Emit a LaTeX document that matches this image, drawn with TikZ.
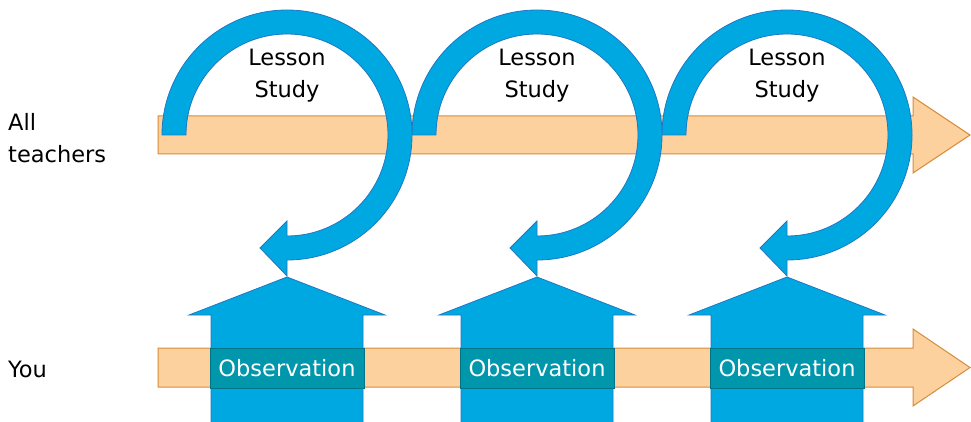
\documentclass[tikz,border=0pt]{standalone}
\usepackage{fontspec}
\setmainfont{DejaVu Sans}
\definecolor{blueF}{RGB}{0,168,226}
\definecolor{blueD}{RGB}{30,120,195}
\definecolor{orF}{RGB}{252,209,158}
\definecolor{orD}{RGB}{215,140,60}
\definecolor{obsF}{RGB}{0,150,172}
\definecolor{obsD}{RGB}{0,115,135}
\begin{document}
\begin{tikzpicture}[x=1pt,y=1pt,
 orarrow/.style={fill=orF,draw=orD,line width=1pt,line join=miter},
 bluearrow/.style={fill=blueF,draw=blueD,line width=0.8pt,line join=miter},
 obsbox/.style={fill=obsF,draw=obsD,line width=0.8pt,minimum width=154pt,minimum height=40pt,inner sep=0pt,text=white,font=\fontsize{22.5}{32}\selectfont},
 lbl/.style={font=\fontsize{22.5}{32}\selectfont,inner sep=0pt},
]
\useasboundingbox (0,0) rectangle (971,421);
\clip (0,0) rectangle (971,421);
% orange timelines
\draw[orarrow] (158,267) -- (913,267) -- (913,248) -- (970,286) -- (913,324) -- (913,305) -- (158,305) -- cycle;
\draw[orarrow] (158,34) -- (913,34) -- (913,15) -- (970,53.5) -- (913,92) -- (913,73) -- (158,73) -- cycle;
% up arrows with observation boxes
\foreach \cx/\n in {287/1,537/2,787/3}{
  \draw[bluearrow] (\cx-76,-5) -- (\cx-76,106) -- (\cx-98,106) -- (\cx,144) -- (\cx+98,106) -- (\cx+76,106) -- (\cx+76,-5) -- cycle;
  \node[obsbox] (obs\n) at (\cx,53) {Observation};
}
% circular arrows
\foreach \cx/\n in {787/3,537/2,287/1}{
  \draw[bluearrow] (\cx-125,286) arc[start angle=180,end angle=-90,radius=125] -- (\cx,145) -- (\cx-27,173) -- (\cx,200) -- (\cx,185) arc[start angle=-90,end angle=180,radius=101] -- cycle;
  \node[lbl,align=center,anchor=north] (ls\n) at (\cx,372.5) {Lesson\\Study};
}
\node[lbl,align=left,anchor=north west] (all) at (8,308) {All\\teachers};
\node[lbl,anchor=base west] (you) at (8,44) {You};
\end{tikzpicture}
\end{document}
